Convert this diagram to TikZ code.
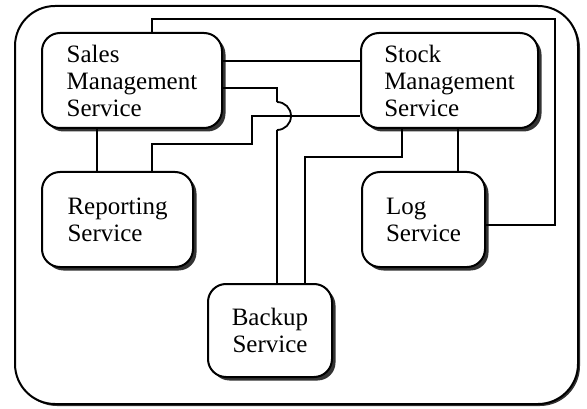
\documentclass[tikz,border=0pt]{standalone}
\usepackage{fontspec}
\setmainfont{Liberation Serif}
\usepackage{tikz}
\usetikzlibrary{shadows}

\begin{document}
\begin{tikzpicture}[x=1pt,y=-1pt,
    service/.style={draw,line width=2pt,rounded corners=18pt,fill=white,align=left,
        font=\fontsize{25}{27}\selectfont,
        drop shadow={shadow xshift=3.5pt,shadow yshift=-3.5pt,fill=black!80,opacity=1}},
    link/.style={line width=1.8pt}]

        \useasboundingbox (0,0) rectangle (587,409);
        \draw[line width=2pt,rounded corners=40pt,
              drop shadow={shadow xshift=2pt,shadow yshift=-2pt,fill=black!80,opacity=1},fill=white]
              (15,6) rectangle (578,404);

        \node[service,minimum width=180pt,minimum height=95pt] (sales) at (132,80.5)
              {Sales\\Management\\Service};
        \node[service,minimum width=177pt,minimum height=95pt] (stock) at (449.5,80.5)
              {Stock\\Management\\Service};
        \node[service,minimum width=151pt,minimum height=95pt] (report) at (117.5,219.5)
              {Reporting\\Service};
        \node[service,minimum width=123pt,minimum height=95pt] (log) at (423.5,219.5)
              {Log\\Service};
        \node[service,minimum width=124pt,minimum height=93pt,align=center] (backup) at (270,330.5)
              {Backup\\Service};

        \coordinate (toprun) at (555,19);
        \coordinate (hop) at (277,116);
        \coordinate (bend) at (252,144);
        \coordinate (mid) at (305,157);

        \draw[link] ([xshift=20pt]sales.north) |- (toprun) |- ([yshift=-5.5pt]log.east);
        \draw[link] ([yshift=19.5pt]sales.east) -- ([yshift=19.5pt]stock.west);
        \draw[link] ([yshift=-7.5pt]sales.east) -| ([yshift=14pt]hop);
        \draw[link] ([yshift=14pt]hop) arc (-90:90:14);
        \draw[link] ([yshift=-14pt]hop) -- ([xshift=7pt]backup.north);
        \draw[link] ([xshift=34.5pt]report.north) |- (bend) |- ([yshift=-35.5pt]stock.west);
        \draw[link] ([xshift=-35pt]sales.south) -- ([xshift=-20.5pt]report.north);
        \draw[link] ([xshift=-47.5pt]stock.south) |- (mid) -- ([xshift=35pt]backup.north);
        \draw[link] ([xshift=8.5pt]stock.south) -- ([xshift=34.5pt]log.north);
      \end{tikzpicture}
\end{document}
